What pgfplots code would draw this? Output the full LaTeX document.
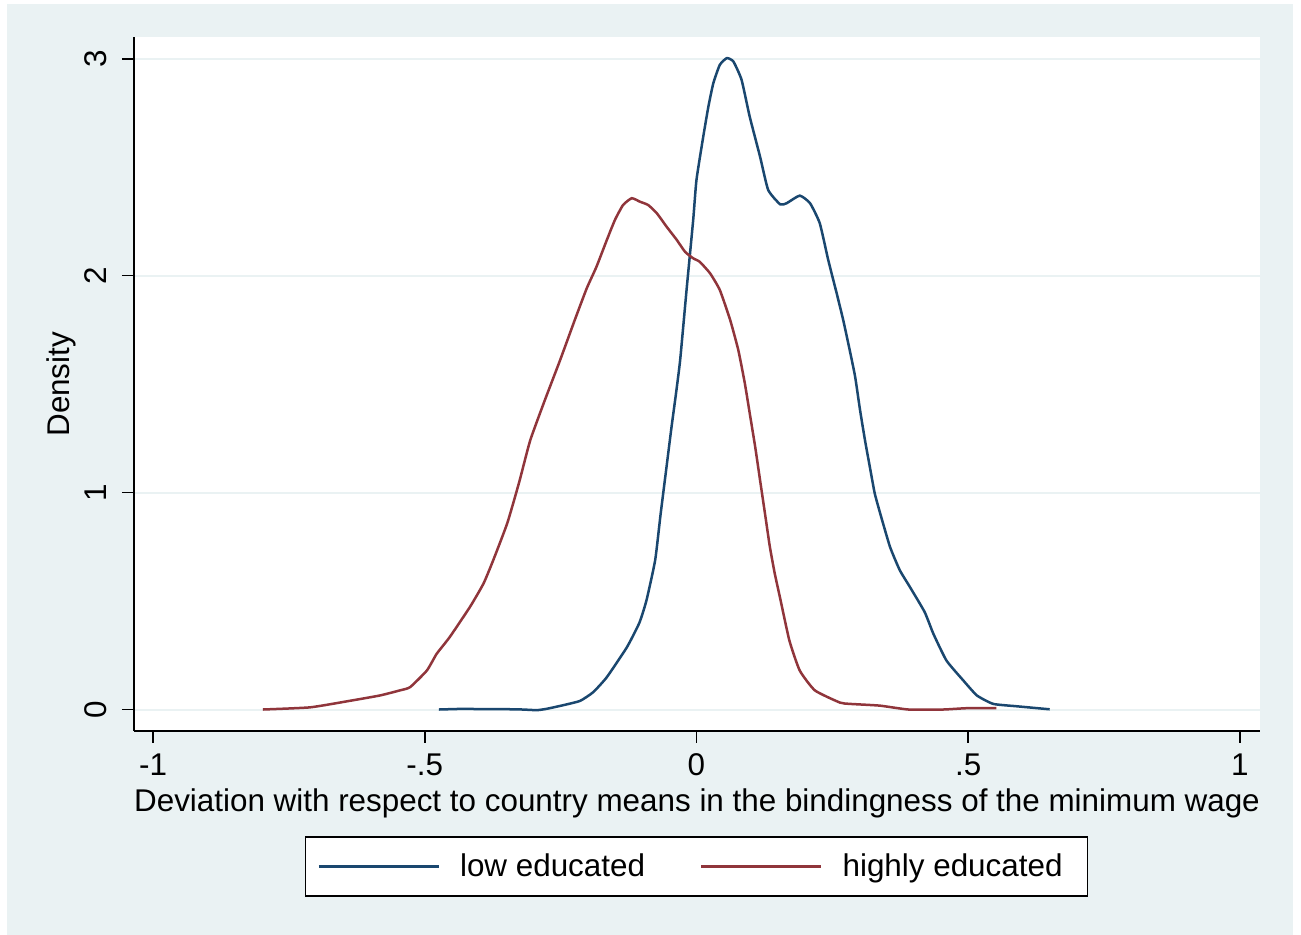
\documentclass[border=0pt]{standalone}
\usepackage{fontspec}
\setmainfont{Liberation Sans}
\usepackage{pgfplots}
\pgfplotsset{compat=1.18}
\definecolor{bgcol}{RGB}{234,242,243}
\definecolor{gridcol}{RGB}{234,242,243}
\definecolor{navy}{RGB}{26,71,111}
\definecolor{maroon}{RGB}{144,53,59}
\newcommand{\chartfont}{\fontsize{15.7}{18}\selectfont}
\begin{document}
\begin{tikzpicture}
\path[use as bounding box] (0pt,0pt) rectangle (650.5pt,467.5pt);
\fill[white] (0pt,0pt) rectangle (650.5pt,467.5pt);
\fill[bgcol] (3.5pt,0pt) rectangle (646.5pt,465.5pt);
\begin{axis}[
  at={(67pt,102pt)}, anchor=south west,
  width=563pt, height=346.75pt, scale only axis,
  xmin=-1.035, xmax=1.037, ymin=-0.099, ymax=3.098,
  axis x line*=bottom, axis y line*=left,
  axis line style={line width=0.8pt, black},
  axis background/.style={fill=white},
  xtick={-1,-0.5,0,0.5,1}, xticklabels={-1,-.5,0,.5,1},
  ytick={0,1,2,3}, yticklabels={0,1,2,3},
  tick align=outside, major tick length=6pt,
  tick style={line width=0.8pt, black},
  ymajorgrids, major grid style={line width=1pt, color=gridcol},
  tick label style={font=\chartfont},
  /pgf/number format/assume math mode=true,
  yticklabel style={rotate=90, anchor=base},
  yticklabel shift=7.5pt,
  xticklabel shift=2pt,
  xlabel={Deviation with respect to country means in the bindingness of the minimum wage},
  ylabel={Density},
  label style={font=\chartfont},
  xlabel style={at={(axis description cs:0.5,-0.1154)}, anchor=base},
  ylabel style={at={(axis description cs:-0.0577,0.5)}, rotate=0, anchor=base},
  legend columns=2,
  legend style={at={(axis description cs:0.4996,-0.1514)}, anchor=north,
    draw=black, line width=0.8pt, fill=white, inner xsep=6pt, inner ysep=6.3pt,
    font=\chartfont, legend cell align=left,
    /tikz/every even column/.append style={column sep=25.5pt},
    /tikz/every odd column/.append style={column sep=8pt}},
  legend image code/.code={\draw[#1] (0pt,0pt) -- (60pt,0pt);},
]
\addplot[navy, line width=1.25pt, smooth, tension=0.3] coordinates {
(-0.474,0.0) (-0.43,0.003) (-0.40,0.002) (-0.362,0.002) (-0.32,0.0) (-0.294,-0.003)
(-0.276,0.003) (-0.245,0.02) (-0.214,0.04) (-0.19,0.08) (-0.165,0.149) (-0.128,0.287)
(-0.105,0.40) (-0.092,0.503) (-0.076,0.688) (-0.066,0.90) (-0.056,1.10) (-0.046,1.30)
(-0.038,1.45) (-0.030,1.611) (-0.018,1.94) (-0.006,2.257) (0.0,2.441) (0.0125,2.641)
(0.022,2.78) (0.031,2.887) (0.043,2.972) (0.056,3.003) (0.068,2.987) (0.083,2.903)
(0.098,2.733) (0.117,2.549) (0.132,2.395) (0.154,2.329) (0.166,2.334) (0.190,2.369)
(0.209,2.334) (0.227,2.241) (0.2425,2.072) (0.258,1.919) (0.270,1.796) (0.282,1.657)
(0.292,1.534) (0.301,1.381) (0.310,1.243) (0.319,1.119) (0.328,0.997) (0.338,0.905)
(0.356,0.751) (0.374,0.643) (0.393,0.564) (0.420,0.449) (0.436,0.349) (0.460,0.226)
(0.491,0.134) (0.516,0.065) (0.546,0.026) (0.589,0.015) (0.650,0.001)
};
\addlegendentry{low educated}
\addplot[maroon, line width=1.25pt, smooth, tension=0.3] coordinates {
(-0.798,0.0) (-0.711,0.01) (-0.638,0.04) (-0.582,0.065) (-0.546,0.088) (-0.527,0.103)
(-0.496,0.18) (-0.478,0.257) (-0.454,0.334) (-0.417,0.472) (-0.392,0.58) (-0.374,0.688)
(-0.348,0.86) (-0.326,1.05) (-0.306,1.24) (-0.279,1.426) (-0.251,1.61) (-0.224,1.795) (-0.202,1.941)
(-0.184,2.041) (-0.165,2.164) (-0.150,2.257) (-0.135,2.326) (-0.119,2.357) (-0.104,2.341)
(-0.089,2.326) (-0.073,2.288) (-0.055,2.226) (-0.036,2.164) (-0.021,2.110) (-0.006,2.080)
(0.006,2.064) (0.025,2.011) (0.043,1.934) (0.062,1.796) (0.077,1.657) (0.089,1.504)
(0.098,1.366) (0.108,1.212) (0.117,1.058) (0.126,0.905) (0.135,0.751) (0.144,0.628)
(0.154,0.513) (0.171,0.318) (0.190,0.18) (0.218,0.088) (0.264,0.032) (0.282,0.026)
(0.337,0.018) (0.390,0.0) (0.454,0.0) (0.497,0.006) (0.552,0.006)
};
\addlegendentry{highly educated\hspace*{4.5pt}}
\end{axis}
\end{tikzpicture}
\end{document}
